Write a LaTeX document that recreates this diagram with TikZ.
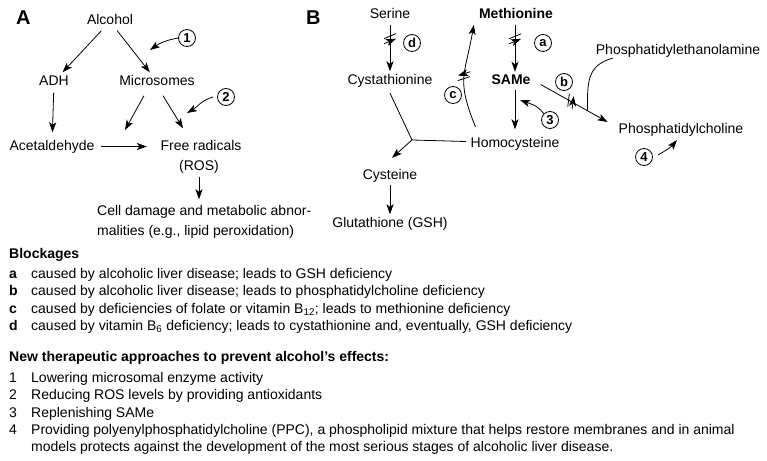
\documentclass[tikz,border=0pt]{standalone}
\usepackage{fontspec}
\setmainfont{Liberation Sans}
\usetikzlibrary{arrows.meta,calc,decorations.markings}
\begin{document}
\begin{tikzpicture}[x=1pt,y=1pt,
  every node/.style={font=\fontsize{14}{17}\selectfont},
  lbl/.style={text height=10pt,text depth=3pt,inner sep=2.5pt},
  bold/.style={font=\fontsize{14}{17}\selectfont\bfseries},
  head/.style={font=\fontsize{20}{20}\selectfont\bfseries,anchor=base west,inner sep=0pt},
  num/.style={circle,draw,line width=0.8pt,minimum size=17pt,inner sep=0pt,font=\fontsize{13}{13}\selectfont\bfseries},
  arr/.style={line width=0.8pt,-{Stealth[length=10pt,width=7pt,inset=2.5pt]}},
  ln/.style={line width=0.8pt},
  hash/.style={postaction={decorate,decoration={markings,mark=at position #1 with {\draw[line width=0.8pt] (0,-6)--(-5,6) (5,-6)--(0,6);}}}},
  txt/.style={anchor=base west,inner sep=0pt},
]
\fill[white] (0,0) rectangle (767,-460);
\useasboundingbox (0,0) rectangle (767,-460);

% ---------- Panel A ----------
\node[head] (pA) at (16,-25) {A};
\node[lbl] (alc) at (110,-21.5) {Alcohol};
\node[lbl] (adh) at (54,-81.5) {ADH};
\node[lbl] (mic) at (157,-81.5) {Microsomes};
\node[lbl] (ace) at (52,-146.5) {Acetaldehyde};
\node[lbl] (fr) at (201,-146.5) {Free radicals};
\node[lbl] (ros) at (199,-166.5) {(ROS)};
\node[lbl,anchor=west] (cell1) at (94.5,-211.5) {Cell damage and metabolic abnor-};
\node[lbl,anchor=west] (cell2) at (94.5,-231.5) {malities (e.g., lipid peroxidation)};
\node[num] (n1) at (187,-38) {1};
\node[num] (n2) at (226,-97) {2};
\coordinate (mx) at (125,-130);
\coordinate (e1) at (150,-50);
\coordinate (e2) at (187,-113);

\draw[arr] (alc) -- (adh);
\draw[arr] (alc) -- (mic);
\draw[arr,shorten <=2pt,shorten >=5pt] (adh) -- (ace);
\draw[arr] ([xshift=-13pt,yshift=-5pt]mic.south) -- (mx);
\draw[arr] ([xshift=6pt,yshift=-5pt]mic.south) -- ([xshift=-18pt,yshift=9pt]fr.north);
\draw[arr,shorten <=4pt,shorten >=11pt] (ace) -- (fr);
\draw[arr] (n1.west) to[out=190,in=35] (e1);
\draw[arr] ([xshift=-4pt]n2.west) to[out=195,in=30] (e2);
\draw[arr,shorten <=1pt] (ros) -- ([yshift=3pt]ros |- cell1.north);

% ---------- Panel B ----------
\node[head] (pB) at (306,-25) {B};
\node[lbl] (ser) at (390,-15.5) {Serine};
\node[lbl,bold] (met) at (516,-15.5) {Methionine};
\node[lbl] (cyst) at (390,-80.5) {Cystathionine};
\node[lbl,bold] (same) at (511,-81) {SAMe};
\node[lbl] (hcy) at (515,-143.5) {Homocysteine};
\node[lbl] (cys) at (390,-175.5) {Cysteine};
\node[lbl] (gsh) at (390,-223.5) {Glutathione (GSH)};
\node[lbl] (pe) at (678,-51.5) {Phosphatidylethanolamine};
\node[lbl] (pc) at (681,-129.5) {Phosphatidylcholine};
\node[num] (nd) at (412,-43) {d};
\node[num] (na) at (543,-43) {a};
\node[num] (nc) at (453,-95) {c};
\node[num] (nb) at (564,-82) {b};
\node[num] (n3) at (550,-120) {3};
\node[num] (n4) at (644,-157) {4};
\coordinate (J) at (412,-140);
\coordinate (e3) at (520,-100);
\coordinate (e4) at (677,-140);

\draw[arr,hash=0.3] (ser) -- (cyst);
\draw[arr,hash=0.3] ([xshift=-1pt]met.south) -- ([xshift=-1pt]met.south |- same.north);
\draw[arr,shorten >=5pt] ([xshift=4pt]same.south) -- ([xshift=4pt]same.south |- hcy.north);
\draw[arr,hash=0.5] ([xshift=7.5pt,yshift=7.5pt]hcy.north west) to[out=112,in=-100,looseness=1.3] ([xshift=-2.5pt]met.south west);
\draw[ln] ([yshift=-3.5pt]cyst.south) -- (J);
\draw[ln] ([yshift=2pt,xshift=-2pt]hcy.west) -- (J);
\draw[arr] (J) -- ([xshift=2pt,yshift=8.5pt]cys.north);
\draw[arr] (cys) -- (gsh);
\draw[arr,hash=0.45] ([xshift=7.5pt,yshift=-3.5pt]same.east) -- coordinate[pos=0.7] (bj) ([xshift=-8.5pt,yshift=7.5pt]pc.west);
\draw[ln] ([xshift=19.5pt,yshift=2.5pt]pe.south west) to[out=195,in=90,looseness=1.2] (bj);
\draw[arr] (n3.135) to[out=125,in=-20] (e3);
\draw[arr] ([xshift=5pt,yshift=2pt]n4.east) to[out=30,in=-130] (e4);

% ---------- Text ----------
\node[txt,bold] (blk) at (9,-258) {Blockages};
\node[txt,bold] (la) at (9,-278) {a};
\node[txt] (ta) at (31,-278) {caused by alcoholic liver disease; leads to GSH deficiency};
\node[txt,bold] (lb) at (9,-295.5) {b};
\node[txt] (tb) at (31,-295.5) {caused by alcoholic liver disease; leads to phosphatidylcholine deficiency};
\node[txt,bold] (lc) at (9,-313) {c};
\node[txt] (tc) at (31,-313) {caused by deficiencies of folate or vitamin B\textsubscript{12}; leads to methionine deficiency};
\node[txt,bold] (ld) at (9,-330) {d};
\node[txt] (td) at (31,-330) {caused by vitamin B\textsubscript{6} deficiency; leads to cystathionine and, eventually, GSH deficiency};

\node[txt,bold] (nt) at (9,-361) {New therapeutic approaches to prevent alcohol’s effects:};
\node[txt] (l1) at (9,-382) {1};
\node[txt] (t1) at (31,-382) {Lowering microsomal enzyme activity};
\node[txt] (l2) at (9,-399.5) {2};
\node[txt] (t2) at (31,-399.5) {Reducing ROS levels by providing antioxidants};
\node[txt] (l3) at (9,-417) {3};
\node[txt] (t3) at (31,-417) {Replenishing SAMe};
\node[txt] (l4) at (9,-434) {4};
\node[txt] (t4) at (31,-434) {Providing polyenylphosphatidylcholine (PPC), a phospholipid mixture that helps restore membranes and in animal};
\node[txt] (t4b) at (31,-451.5) {models protects against the development of the most serious stages of alcoholic liver disease.};
\end{tikzpicture}
\end{document}
